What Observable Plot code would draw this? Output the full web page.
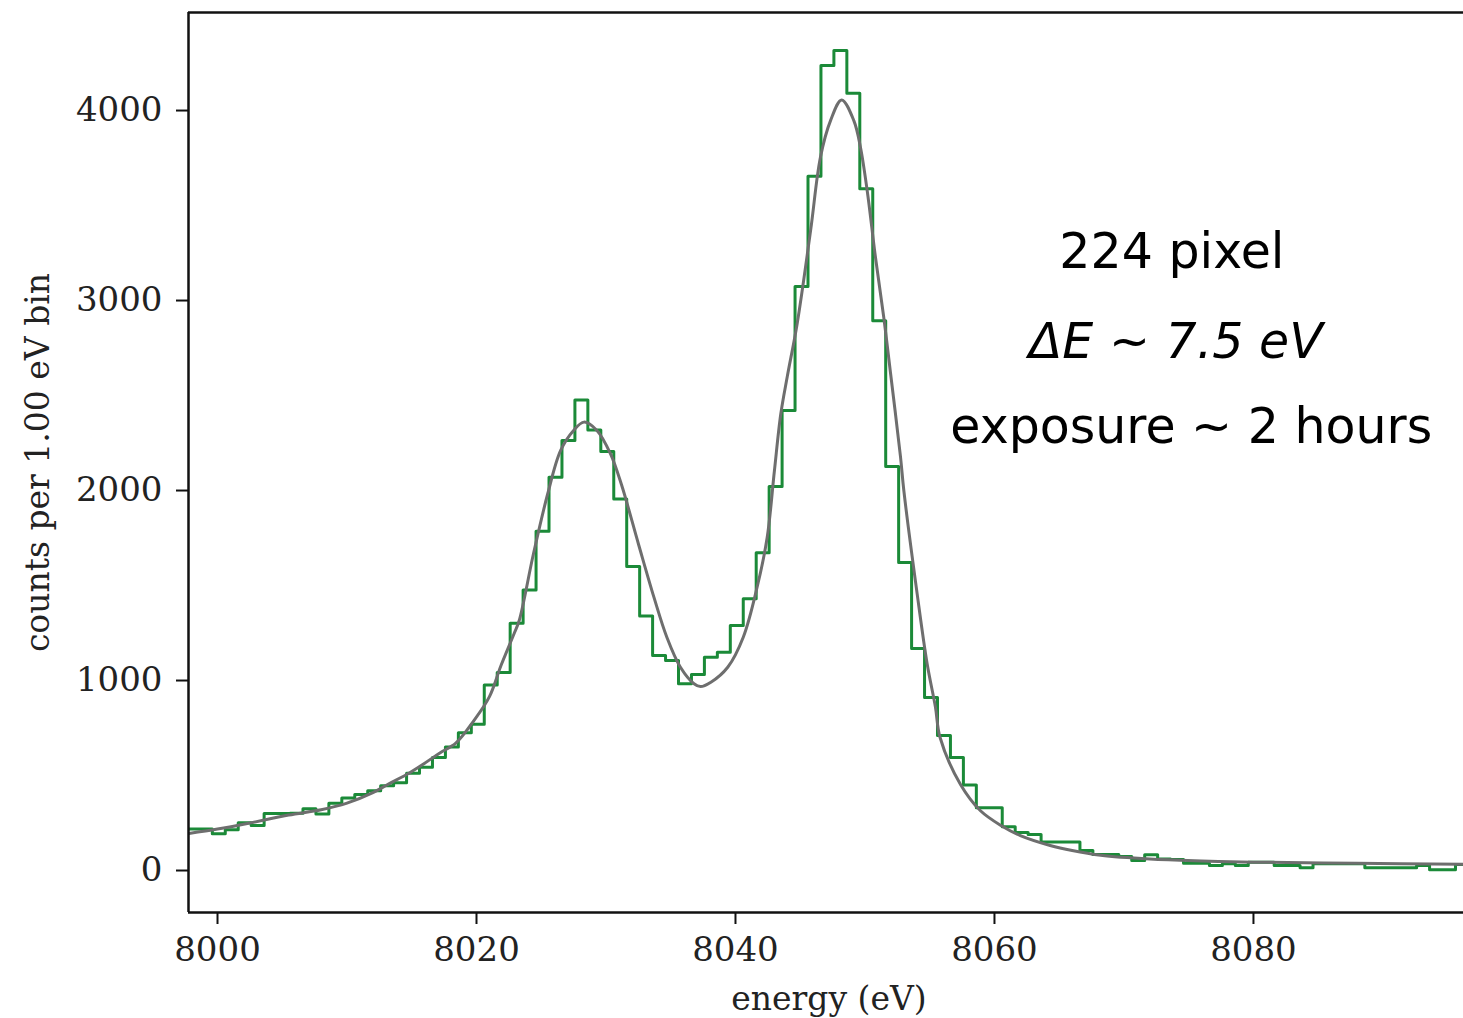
<!DOCTYPE html>
<html><head><meta charset="utf-8">
<script src="https://cdn.jsdelivr.net/npm/d3@7"></script>
<script src="https://cdn.jsdelivr.net/npm/@observablehq/plot@0.6"></script>
<style>body{margin:0;background:#fff} #chart svg{display:block}</style>
</head><body><div id="chart"></div>
<script>
// histogram: 1.00 eV bins starting at binStart
const binStart = 7997.6;
const binWidth = 1.0;
const counts = [
  219, 219, 193, 214, 251, 237, 300, 300, 302, 325,
  298, 354, 381, 400, 420, 446, 462, 512, 544, 595,
  650, 725, 770, 976, 1042, 1302, 1477, 1786, 2070, 2263,
  2477, 2319, 2205, 1956, 1600, 1340, 1132, 1105, 983, 1032,
  1123, 1149, 1289, 1430, 1672, 2021, 2421, 3074, 3654, 4237,
  4316, 4091, 3588, 2893, 2126, 1621, 1168, 910, 710, 595,
  450, 330, 330, 230, 200, 190, 150, 150, 150, 105,
  84, 84, 74, 53, 83, 60, 58, 38, 38, 26,
  35, 26, 44, 44, 26, 26, 14, 35, 35, 35,
  35, 14, 14, 14, 14, 26, 4, 4, 32
];
// fitted model curve
const fitEnergy = [
  7997.8, 8000.0, 8002.5, 8005.5, 8008.0, 8010.0, 8012.0, 8013.2, 8014.6, 8016.0,
  8017.2, 8018.4, 8019.8, 8021.0, 8021.9, 8022.9, 8023.3, 8024.4, 8025.5, 8026.5,
  8027.5, 8028.3, 8029.3, 8030.35, 8031.2, 8032.5, 8033.7, 8034.7, 8035.75, 8036.8,
  8037.3, 8038.1, 8039.4, 8040.6, 8041.7, 8042.45, 8043.0, 8043.5, 8044.0, 8044.76,
  8045.8, 8046.56, 8047.34, 8048.2, 8049.14, 8049.65, 8050.17, 8050.81, 8051.45, 8051.97,
  8052.74, 8053.0, 8054.03, 8054.8, 8055.44, 8055.8, 8057.4, 8058.9, 8060.5, 8062.0,
  8064.3, 8066.0, 8068.2, 8072.0, 8076.0, 8080.0, 8088.0, 8096.3
];
const fitCounts = [
  195, 218, 250, 292, 320, 355, 410, 455, 505, 565,
  620, 670, 789, 915, 1080, 1246, 1316, 1667, 1983, 2211,
  2316, 2360, 2316, 2193, 2030, 1720, 1439, 1228, 1070, 983,
  968, 991, 1070, 1228, 1500, 1754, 2100, 2404, 2600, 2877,
  3368, 3754, 3947, 4056, 3947, 3807, 3579, 3228, 2912, 2620,
  2180, 2000, 1456, 1088, 860, 700, 450, 316, 237, 184,
  132, 105, 80, 60, 50, 44, 38, 33
];
const xTicks = [8000, 8020, 8040, 8060, 8080];
const yTicks = [0, 1000, 2000, 3000, 4000];
const xDomain = [7997.76, 8096.22];
const yDomain = [-221, 4516];
const xLabel = "energy (eV)";
const yLabel = "counts per 1.00 eV bin";
const noteUpright = ["224 pixel", "exposure ~ 2 hours"];
const noteUprightX = [8073.7, 8075.2];
const noteUprightY = [3170, 2250];
const noteItalic = ["ΔE ~ 7.5 eV"];
const noteItalicX = [8074.0];
const noteItalicY = [2700];

const hist = counts.map((c, i) => ({x: binStart + i * binWidth, y: c}));
hist.push({x: binStart + counts.length * binWidth, y: counts[counts.length - 1]});
const fit = fitEnergy.map((e, i) => ({x: e, y: fitCounts[i]}));
const up = noteUpright.map((t, i) => ({t, x: noteUprightX[i], y: noteUprightY[i]}));
const it = noteItalic.map((t, i) => ({t, x: noteItalicX[i], y: noteItalicY[i]}));

const spine = "#111";
const chart = Plot.plot({
  width: 1463,
  height: 1018,
  marginLeft: 188,
  marginRight: 0,
  marginTop: 12,
  marginBottom: 106,
  style: {fontFamily: "DejaVu Serif", background: "#fff"},
  x: {domain: xDomain},
  y: {domain: yDomain},
  marks: [
    Plot.line(hist, {x: "x", y: "y", curve: "step-after", stroke: "#1b8a38", strokeWidth: 3, clip: true}),
    Plot.line(fit, {x: "x", y: "y", curve: "catmull-rom", stroke: "#6e6e6e", strokeWidth: 3, clip: true}),
    Plot.axisX(xTicks, {tickSize: 12, tickPadding: 12, fontSize: 34, tickFormat: d => String(d), label: null, stroke: spine, strokeWidth: 2, fill: "#222"}),
    Plot.axisY(yTicks, {tickSize: 12, tickPadding: 14, fontSize: 34, tickFormat: d => String(d), label: null, stroke: spine, strokeWidth: 2, fill: "#222"}),
    Plot.ruleX([xDomain[0]], {stroke: spine, strokeWidth: 2.5}),
    Plot.ruleY([yDomain[0], yDomain[1]], {stroke: spine, strokeWidth: 2.5}),
    Plot.text([xLabel], {frameAnchor: "bottom", textAnchor: "middle", dx: 3, dy: 97, fontSize: 33, fill: "#222"}),
    Plot.text([yLabel], {frameAnchor: "left", textAnchor: "middle", dx: -150, rotate: -90, fontSize: 33, fill: "#222"}),
    Plot.text(up, {x: "x", y: "y", text: "t", lineAnchor: "bottom", fontSize: 49, fontFamily: "DejaVu Sans", fill: "#000"}),
    Plot.text(it, {x: "x", y: "y", text: "t", lineAnchor: "bottom", fontSize: 49, fontStyle: "italic", fontFamily: "DejaVu Sans", fill: "#000"})
  ]
});
document.getElementById("chart").appendChild(chart);
</script>
</body></html>
